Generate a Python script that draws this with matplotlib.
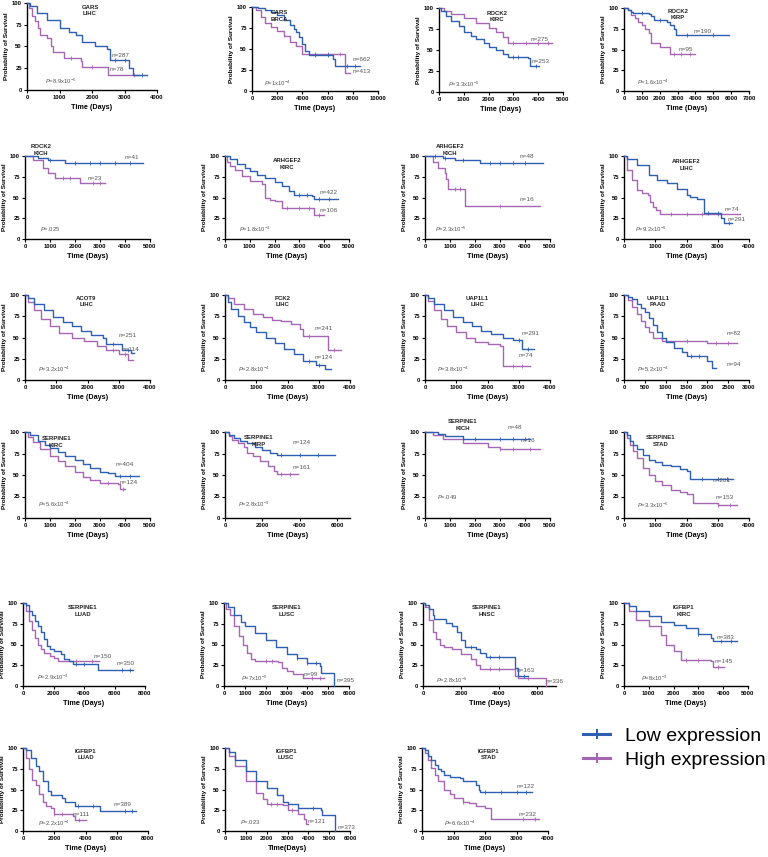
import numpy as np
import matplotlib
matplotlib.use("Agg")
import matplotlib.pyplot as plt
from matplotlib.lines import Line2D

plt.rcParams['font.family'] = ['Liberation Sans', 'DejaVu Sans']
plt.rcParams['mathtext.fontset'] = 'custom'
plt.rcParams['mathtext.rm'] = 'Liberation Sans'
plt.rcParams['mathtext.it'] = 'Liberation Sans:italic'
plt.rcParams['mathtext.bf'] = 'Liberation Sans:bold'

# ---------------- data ----------------
genes = ["GARS", "GARS", "ROCK2", "ROCK2", "ROCK2", "ARHGEF2", "ARHGEF2", "ARHGEF2",
         "ACOT9", "PCK2", "UAP1L1", "UAP1L1", "SERPINE1", "SERPINE1", "SERPINE1", "SERPINE1",
         "SERPINE1", "SERPINE1", "SERPINE1", "IGFBP1", "IGFBP1", "IGFBP1", "IGFBP1"]
cancers = ["LIHC", "BRCA", "KIRC", "KIRP", "KICH", "KIRC", "KICH", "LIHC",
           "LIHC", "LIHC", "LIHC", "PAAD", "KIRC", "KIRP", "KICH", "STAD",
           "LUAD", "LUSC", "HNSC", "KIRC", "LUAD", "LUSC", "STAD"]
n_low = [287, 662, 253, 190, 41, 422, 48, 291, 251, 124, 291, 94,
         404, 124, 48, 201, 350, 395, 163, 383, 389, 373, 122]
n_high = [78, 413, 275, 95, 23, 106, 16, 74, 114, 241, 74, 82,
          124, 161, 16, 153, 150, 99, 336, 145, 111, 121, 232]
p_values = ["8.9x10$^{-5}$", "1x10$^{-4}$", "3.3x10$^{-5}$", "1.6x10$^{-4}$", ".025",
            "1.8x10$^{-3}$", "2.3x10$^{-5}$", "9.2x10$^{-6}$", "3.2x10$^{-4}$", "2.8x10$^{-4}$",
            "3.8x10$^{-4}$", "5.2x10$^{-4}$", "5.6x10$^{-4}$", "2.8x10$^{-3}$", ".049",
            "3.3x10$^{-6}$", "2.9x10$^{-3}$", "7x10$^{-5}$", "2.8x10$^{-5}$", "8x10$^{-3}$",
            "2.2x10$^{-4}$", ".023", "6.6x10$^{-4}$"]
x_max = [4000, 10000, 5000, 7000, 5000, 5000, 5000, 4000,
         4000, 4000, 4000, 3000, 5000, 6700, 5000, 4000,
         8000, 6000, 7000, 5000, 8000, 6000, 4000]
x_step = [1000, 2000, 1000, 1000, 1000, 1000, 1000, 1000,
          1000, 1000, 1000, 500, 1000, 2000, 1000, 1000,
          2000, 1000, 2000, 1000, 2000, 1000, 1000]
x_titles = ["Time (Days)"] * 21 + ["Time(Days)", "Time (Days)"]
y_ticks = [0, 25, 50, 75, 100]
legend_labels = ["Low expression", "High expression"]

# Kaplan-Meier curves: times (days) and survival (%) ; c = censor times
p01_low_t = [0, 100, 300, 600, 1000, 1300, 1500, 1700, 2100, 2450, 2550, 3150, 3250, 3700]
p01_low_s = [100, 96, 88, 81, 71, 67, 63, 55, 50, 47, 35, 25, 17, 17]
p01_high_t = [0, 50, 150, 250, 350, 400, 600, 750, 800, 1150, 1650, 1700, 2500, 3450]
p01_high_s = [100, 94, 85, 79, 71, 63, 60, 50, 44, 37, 33, 26, 17, 17]
p01_low_c = [2700, 3000, 3550]
p01_high_c = [1350, 2000, 3300]

p02_low_t = [0, 500, 1000, 1500, 2000, 2500, 3000, 3300, 3500, 3700, 4000, 4200, 4500, 6400, 6600, 8600]
p02_low_s = [100, 99, 97, 94, 90, 84, 78, 74, 70, 64, 56, 48, 43, 38, 30, 30]
p02_high_t = [0, 300, 700, 1000, 1500, 2000, 2500, 3000, 3500, 4000, 7400, 7750]
p02_high_s = [100, 97, 88, 81, 76, 72, 66, 58, 54, 44, 22, 22]
p02_low_c = [5000, 6000, 7500, 8200]
p02_high_c = [5000, 6000, 7000]

p03_low_t = [0, 100, 300, 500, 800, 1000, 1300, 1500, 1800, 2000, 2300, 2600, 2800, 3600, 3650, 4050]
p03_low_s = [100, 96, 90, 85, 78, 71, 67, 63, 58, 54, 50, 45, 42, 41, 31, 31]
p03_high_t = [0, 200, 500, 1000, 1500, 2000, 2300, 2600, 2800, 4550]
p03_high_s = [100, 96, 93, 88, 82, 76, 72, 66, 58, 58]
p03_low_c = [3000, 3200, 3900]
p03_high_c = [3000, 3500, 4000, 4400]

p04_low_t = [0, 200, 400, 500, 1400, 1500, 1700, 2400, 2600, 2800, 2900, 5900]
p04_low_s = [100, 98, 95, 94, 93, 90, 86, 83, 79, 75, 67, 67]
p04_high_t = [0, 200, 400, 600, 800, 1000, 1200, 1400, 1500, 2000, 2600, 3950]
p04_high_s = [100, 97, 92, 88, 83, 79, 75, 70, 58, 53, 45, 45]
p04_low_c = [1000, 2000, 3500, 5000]
p04_high_c = [2800, 3200, 3700]

p05_low_t = [0, 500, 900, 1600, 4700]
p05_low_s = [100, 98, 95, 92, 92]
p05_high_t = [0, 300, 700, 900, 1200, 2200, 3200]
p05_high_s = [100, 95, 86, 80, 74, 67, 67]
p05_low_c = [1000, 2000, 2600, 3000, 3600, 4200]
p05_high_c = [1500, 1800, 2700, 3000]

p06_low_t = [0, 200, 500, 800, 1000, 1300, 1600, 2000, 2300, 2600, 2800, 3500, 3600, 4550]
p06_low_s = [100, 96, 90, 85, 82, 77, 73, 69, 64, 58, 53, 52, 48, 48]
p06_high_t = [0, 100, 200, 400, 700, 1000, 1500, 1600, 1800, 2000, 2300, 3600, 4000]
p06_high_s = [100, 93, 88, 83, 76, 70, 66, 50, 47, 46, 37, 29, 29]
p06_low_c = [3000, 3300, 3800, 4200]
p06_high_c = [2500, 3000, 3400, 3800]

p07_low_t = [0, 700, 1200, 2200, 4700]
p07_low_s = [100, 98, 95, 92, 92]
p07_high_t = [0, 300, 500, 800, 850, 900, 1600, 4600]
p07_high_s = [100, 93, 86, 80, 72, 60, 40, 40]
p07_low_c = [400, 800, 1500, 2600, 3000, 3500, 4000]
p07_high_c = [1200, 1400, 3000]

p08_low_t = [0, 100, 400, 800, 1040, 1360, 1680, 2000, 2100, 2320, 2550, 3100, 3200, 3450]
p08_low_s = [100, 96, 89, 77, 71, 67, 60, 53, 51, 48, 31, 25, 19, 19]
p08_high_t = [0, 85, 245, 400, 560, 775, 830, 935, 1020, 1150, 3700]
p08_high_s = [100, 83, 71, 59, 56, 53, 45, 39, 35, 30, 30]
p08_low_c = [2700, 3000, 3350]
p08_high_c = [1500, 2000, 2500, 3000]

p09_low_t = [0, 100, 300, 600, 900, 1200, 1500, 1800, 2100, 2500, 2600, 3100, 3400, 3500]
p09_low_s = [100, 96, 90, 82, 74, 68, 63, 58, 53, 50, 42, 35, 32, 32]
p09_high_t = [0, 100, 300, 500, 800, 1100, 1500, 1900, 2300, 2600, 3000, 3300, 3450]
p09_high_s = [100, 92, 82, 72, 63, 55, 50, 46, 40, 35, 30, 24, 24]
p09_low_c = [2800, 3300]
p09_high_c = [2800, 3200]

p10_low_t = [0, 100, 200, 400, 600, 800, 1000, 1300, 1600, 1900, 2200, 2500, 2900, 3200, 3400]
p10_low_s = [100, 92, 84, 75, 68, 62, 57, 50, 44, 37, 30, 22, 18, 13, 13]
p10_high_t = [0, 100, 300, 600, 900, 1200, 1500, 1800, 2100, 2400, 2500, 3300, 3700]
p10_high_s = [100, 96, 90, 84, 78, 74, 71, 69, 66, 60, 52, 35, 35]
p10_low_c = [2700, 3000]
p10_high_c = [2700, 3500]

p11_low_t = [0, 100, 300, 600, 900, 1200, 1500, 1800, 2100, 2500, 2800, 3100, 3500]
p11_low_s = [100, 96, 90, 82, 74, 68, 63, 58, 54, 50, 47, 36, 36]
p11_high_t = [0, 100, 300, 500, 700, 1000, 1300, 1600, 2000, 2400, 2500, 3350]
p11_high_s = [100, 93, 82, 72, 64, 57, 50, 45, 42, 40, 17, 17]
p11_low_c = [3000, 3300]
p11_high_c = [2800, 3100]

p12_low_t = [0, 100, 200, 300, 400, 500, 600, 700, 800, 900, 1000, 1200, 1400, 1500, 2000, 2100, 2200]
p12_low_s = [100, 98, 95, 90, 85, 80, 73, 65, 57, 50, 45, 38, 33, 28, 22, 14, 14]
p12_high_t = [0, 100, 200, 300, 400, 500, 600, 700, 900, 2000, 2700]
p12_high_s = [100, 94, 86, 78, 70, 62, 56, 50, 46, 44, 44]
p12_low_c = [1600, 1800]
p12_high_c = [1500, 2200, 2500]

p13_low_t = [0, 200, 500, 800, 1000, 1300, 1600, 2000, 2300, 2600, 3000, 3300, 3600, 4550]
p13_low_s = [100, 96, 90, 85, 81, 77, 72, 67, 63, 58, 54, 52, 49, 49]
p13_high_t = [0, 100, 300, 600, 1000, 1300, 1600, 2000, 2300, 2600, 3000, 3700, 3800, 4000]
p13_high_s = [100, 94, 88, 80, 72, 66, 60, 54, 48, 44, 41, 40, 34, 34]
p13_low_c = [3800, 4200]
p13_high_c = [3300, 3900]

p14_low_t = [0, 200, 500, 800, 1200, 1600, 2000, 2400, 2800, 5900]
p14_low_s = [100, 97, 93, 90, 87, 83, 79, 76, 73, 73]
p14_high_t = [0, 200, 400, 700, 1000, 1200, 1500, 1900, 2300, 2600, 2800, 3900]
p14_high_s = [100, 95, 91, 87, 82, 76, 72, 66, 60, 55, 51, 51]
p14_low_c = [3000, 4000, 5000]
p14_high_c = [3000, 3500]

p15_low_t = [0, 500, 800, 1500, 4200]
p15_low_s = [100, 98, 95, 92, 92]
p15_high_t = [0, 300, 700, 1500, 2500, 3000, 4600]
p15_high_s = [100, 97, 92, 87, 83, 80, 80]
p15_low_c = [2000, 3000, 3500, 4000]
p15_high_c = [3000, 3500, 4200]

p16_low_t = [0, 100, 200, 300, 400, 600, 800, 1000, 1200, 1500, 1800, 2000, 2100, 3500]
p16_low_s = [100, 96, 90, 85, 80, 73, 68, 65, 62, 60, 57, 55, 45, 45]
p16_high_t = [0, 100, 200, 300, 400, 600, 800, 1000, 1200, 1500, 1800, 2000, 2200, 3000, 3600]
p16_high_s = [100, 93, 85, 78, 70, 58, 50, 43, 38, 33, 30, 28, 18, 15, 15]
p16_low_c = [2500, 3000, 3300]
p16_high_c = [3000, 3400]

p17_low_t = [0, 200, 400, 600, 800, 1000, 1200, 1400, 1600, 1800, 2000, 2500, 2700, 3000, 3300, 4900, 4950, 7200]
p17_low_s = [100, 97, 90, 85, 78, 72, 65, 57, 48, 45, 42, 38, 32, 30, 27, 25, 19, 19]
p17_high_t = [0, 200, 400, 600, 800, 1000, 1200, 1400, 1800, 2000, 2300, 5000]
p17_high_s = [100, 90, 78, 68, 58, 50, 44, 40, 36, 34, 30, 30]
p17_low_c = [3500, 4000, 6500, 7000]
p17_high_c = [3500, 4500]

p18_low_t = [0, 200, 500, 800, 1000, 1500, 2000, 2500, 3000, 3500, 4000, 4600, 4650, 5300]
p18_low_s = [100, 95, 85, 77, 72, 64, 55, 47, 38, 34, 28, 24, 16, 0]
p18_high_t = [0, 100, 300, 500, 700, 900, 1100, 1300, 1500, 2600, 2800, 3000, 3300, 3800, 4800]
p18_high_s = [100, 93, 85, 72, 60, 50, 40, 33, 30, 29, 22, 18, 15, 10, 10]
p18_low_c = [3500, 4000, 4400]
p18_high_c = [2000, 2300, 4200, 4600]

p19_low_t = [0, 100, 300, 500, 600, 1000, 1200, 1500, 1800, 2000, 2200, 2800, 3000, 3300, 4800, 4850, 5000, 5500]
p19_low_s = [100, 98, 93, 85, 81, 81, 76, 72, 65, 56, 47, 45, 40, 35, 35, 22, 12, 12]
p19_high_t = [0, 100, 300, 500, 700, 900, 1100, 1500, 2000, 2500, 2800, 3000, 4800, 4850, 5000, 6450]
p19_high_s = [100, 95, 80, 65, 57, 50, 47, 44, 38, 33, 25, 21, 20, 12, 10, 0]
p19_low_c = [2500, 3500, 4000, 5300]
p19_high_c = [3500, 4000, 5500]

p20_low_t = [0, 200, 500, 1000, 1500, 2000, 2500, 3000, 3500, 3600, 4550]
p20_low_s = [100, 96, 90, 84, 77, 73, 70, 63, 58, 54, 54]
p20_high_t = [0, 200, 500, 1000, 1500, 1700, 2000, 2300, 3500, 3600, 4050]
p20_high_s = [100, 90, 80, 72, 62, 50, 42, 31, 30, 23, 23]
p20_low_c = [3000, 3900, 4300]
p20_high_c = [2500, 3000, 3800]

p21_low_t = [0, 200, 500, 800, 1000, 1300, 1600, 1800, 2500, 2700, 3300, 4900, 4950, 7200]
p21_low_s = [100, 97, 88, 78, 72, 60, 48, 43, 40, 35, 30, 30, 24, 24]
p21_high_t = [0, 200, 400, 600, 800, 1000, 1300, 1500, 1800, 2000, 3200, 3300, 4000]
p21_high_s = [100, 88, 75, 62, 55, 45, 35, 30, 28, 20, 18, 13, 13]
p21_low_c = [3500, 4500, 6500, 7000]
p21_high_c = [2000, 2500, 3600]

p22_low_t = [0, 200, 500, 1000, 1500, 2000, 2500, 2800, 3000, 3500, 4600, 4650, 5300]
p22_low_s = [100, 95, 85, 72, 60, 52, 43, 35, 32, 28, 25, 19, 0]
p22_high_t = [0, 200, 500, 1000, 1500, 1800, 2000, 2800, 3000, 3500, 3800, 3900, 4000]
p22_high_s = [100, 90, 78, 60, 46, 38, 33, 31, 25, 20, 14, 8, 8]
p22_low_c = [3500, 4200]
p22_high_c = [2200, 2500, 3200]

p23_low_t = [0, 100, 200, 300, 400, 500, 600, 700, 900, 1200, 1300, 1700, 1800, 1850, 3500]
p23_low_s = [100, 97, 90, 85, 80, 75, 72, 68, 65, 64, 60, 55, 50, 47, 47]
p23_high_t = [0, 100, 200, 300, 400, 500, 700, 900, 1000, 1300, 1500, 1700, 2000, 2200, 3700]
p23_high_s = [100, 94, 85, 76, 68, 60, 50, 44, 40, 35, 34, 30, 28, 15, 15]
p23_low_c = [2000, 2500, 3000, 3300]
p23_high_c = [1300, 3200, 3600]

low_curves = [(p01_low_t, p01_low_s, p01_low_c), (p02_low_t, p02_low_s, p02_low_c),
              (p03_low_t, p03_low_s, p03_low_c), (p04_low_t, p04_low_s, p04_low_c),
              (p05_low_t, p05_low_s, p05_low_c), (p06_low_t, p06_low_s, p06_low_c),
              (p07_low_t, p07_low_s, p07_low_c), (p08_low_t, p08_low_s, p08_low_c),
              (p09_low_t, p09_low_s, p09_low_c), (p10_low_t, p10_low_s, p10_low_c),
              (p11_low_t, p11_low_s, p11_low_c), (p12_low_t, p12_low_s, p12_low_c),
              (p13_low_t, p13_low_s, p13_low_c), (p14_low_t, p14_low_s, p14_low_c),
              (p15_low_t, p15_low_s, p15_low_c), (p16_low_t, p16_low_s, p16_low_c),
              (p17_low_t, p17_low_s, p17_low_c), (p18_low_t, p18_low_s, p18_low_c),
              (p19_low_t, p19_low_s, p19_low_c), (p20_low_t, p20_low_s, p20_low_c),
              (p21_low_t, p21_low_s, p21_low_c), (p22_low_t, p22_low_s, p22_low_c),
              (p23_low_t, p23_low_s, p23_low_c)]
high_curves = [(p01_high_t, p01_high_s, p01_high_c), (p02_high_t, p02_high_s, p02_high_c),
               (p03_high_t, p03_high_s, p03_high_c), (p04_high_t, p04_high_s, p04_high_c),
               (p05_high_t, p05_high_s, p05_high_c), (p06_high_t, p06_high_s, p06_high_c),
               (p07_high_t, p07_high_s, p07_high_c), (p08_high_t, p08_high_s, p08_high_c),
               (p09_high_t, p09_high_s, p09_high_c), (p10_high_t, p10_high_s, p10_high_c),
               (p11_high_t, p11_high_s, p11_high_c), (p12_high_t, p12_high_s, p12_high_c),
               (p13_high_t, p13_high_s, p13_high_c), (p14_high_t, p14_high_s, p14_high_c),
               (p15_high_t, p15_high_s, p15_high_c), (p16_high_t, p16_high_s, p16_high_c),
               (p17_high_t, p17_high_s, p17_high_c), (p18_high_t, p18_high_s, p18_high_c),
               (p19_high_t, p19_high_s, p19_high_c), (p20_high_t, p20_high_s, p20_high_c),
               (p21_high_t, p21_high_s, p21_high_c), (p22_high_t, p22_high_s, p22_high_c),
               (p23_high_t, p23_high_s, p23_high_c)]

# ---------------- layout (pixels) ----------------
W, H = 768, 857
# (x of 0, x of xmax, y of 100, y of 0)
axes_px = [(27, 157, 3, 90), (252, 378, 7, 91), (439, 563, 8, 92), (624, 749, 8, 91),
           (25, 150, 156, 239), (225, 349, 156, 239), (425, 550, 156, 239), (624, 749, 156, 239),
           (25, 150, 295, 380), (225, 350, 295, 380), (425, 550, 295, 380), (624, 749, 295, 380),
           (25, 150, 432, 518), (225, 350, 432, 518), (425, 550, 432, 518), (624, 749, 432, 518),
           (23, 145, 603, 686), (224, 349, 603, 686), (423, 556, 603, 686), (624, 748, 603, 686),
           (23, 148, 748, 831), (225, 350, 748, 831), (422, 548, 748, 831)]
title_pos = [(0.485, 0.98), (0.22, 0.96), (0.47, 0.97), (0.43, 0.99),
             (0.13, 1.14), (0.50, 0.97), (0.20, 1.14), (0.50, 0.96),
             (0.49, 0.99), (0.46, 0.99), (0.42, 0.99), (0.27, 0.99),
             (0.25, 0.95), (0.27, 0.96), (0.30, 1.15), (0.29, 0.96),
             (0.49, 0.97), (0.50, 0.97), (0.48, 0.97), (0.48, 0.97),
             (0.50, 0.99), (0.49, 0.99), (0.53, 0.99)]
# label positions in data coords: n low, n high, P
nlow_pos = [(2600, 40), (7970, 37), (3750, 36), (3880, 72), (4000, 98), (3820, 56), (3800, 100), (3300, 23),
            (3000, 52), (2850, 26), (3100, 55), (2450, 18), (3640, 62), (3640, 88), (3320, 105), (2820, 44),
            (6140, 27), (5390, 7), (4900, 19), (3750, 59), (5820, 32), (5380, 4), (3010, 54)]
nhigh_pos = [(2550, 23), (7970, 23), (3710, 63), (3040, 50), (2490, 73), (3820, 34), (3800, 47), (3230, 36),
             (3100, 36), (2850, 61), (2980, 29), (2470, 55), (3800, 41), (3640, 59), (3840, 90), (2940, 24),
             (4600, 35), (3830, 14), (6430, 6), (3660, 29), (3200, 20), (3940, 12), (3070, 20)]
p_pos = [(560, 10), (980, 9), (360, 9), (710, 11), (600, 12), (580, 12), (400, 12), (350, 12),
         (420, 12), (420, 12), (380, 12), (310, 12), (520, 16), (700, 16), (480, 24), (420, 15),
         (920, 10), (800, 9), (700, 7), (670, 9), (950, 9), (720, 11), (710, 9)]

LOW_C = '#2f5fb3'
HIGH_C = '#a566b3'
GRAY = '#555555'

fig = plt.figure(figsize=(W / 100, H / 100), dpi=100)

def step_value(t, s, c):
    i = np.searchsorted(t, c, side='right') - 1
    return s[i]

for i in range(23):
    x0, x1, yt, yb = axes_px[i]
    ax = fig.add_axes([x0 / W, 1 - yb / H, (x1 - x0) / W, (yb - yt) / H])
    for (t, s, c), col in ((high_curves[i], HIGH_C), (low_curves[i], LOW_C)):
        ax.step(t, s, where='post', color=col, lw=1.0, clip_on=False, zorder=3)
        cy = [step_value(t, s, cc) for cc in c]
        ax.plot(c, cy, ls='none', marker='|', ms=2.5, mew=0.6, color=col, clip_on=False, zorder=3)
    ax.set_xlim(0, x_max[i])
    ax.set_ylim(0, 100)
    ax.set_xticks(np.arange(0, x_max[i] + 1, x_step[i]))
    ax.set_yticks(y_ticks)
    for sp in ('top', 'right'):
        ax.spines[sp].set_visible(False)
    for sp in ('left', 'bottom'):
        ax.spines[sp].set_linewidth(1.0)
    ax.tick_params(axis='both', direction='out', length=2.5, width=0.8, pad=1.2,
                   labelsize=4.2)
    for lab in ax.get_xticklabels() + ax.get_yticklabels():
        lab.set_fontweight('bold')
    ax.set_xlabel(x_titles[i], fontsize=5.2, fontweight='bold', labelpad=2.5)
    ax.set_ylabel("Probability of Survival", fontsize=4.6, fontweight='bold', labelpad=2)
    tx, ty = title_pos[i]
    ax.text(tx, ty, genes[i] + "\n" + cancers[i], transform=ax.transAxes, ha='center', va='top',
            fontsize=4.3, fontweight='bold', linespacing=1.35, color='#222222')
    ax.text(*nlow_pos[i], "n=%d" % n_low[i], fontsize=4.6, color=GRAY, ha='left', va='center')
    ax.text(*nhigh_pos[i], "n=%d" % n_high[i], fontsize=4.6, color=GRAY, ha='left', va='center')
    ax.text(*p_pos[i], r"$\it{P}$=" + p_values[i], fontsize=4.2, color=GRAY, ha='left', va='center')

handles = [Line2D([0], [0], color=LOW_C, lw=2.2, marker='|', ms=7, mew=1.5),
           Line2D([0], [0], color=HIGH_C, lw=2.2, marker='|', ms=7, mew=1.5)]
fig.legend(handles, legend_labels, loc='upper left', bbox_to_anchor=(583 / W, 1 - 727 / H),
           frameon=False, fontsize=14, handlelength=1.4, handletextpad=0.75,
           labelspacing=0.35, borderpad=0, borderaxespad=0, numpoints=1)

fig.savefig("out.png", dpi=100)
